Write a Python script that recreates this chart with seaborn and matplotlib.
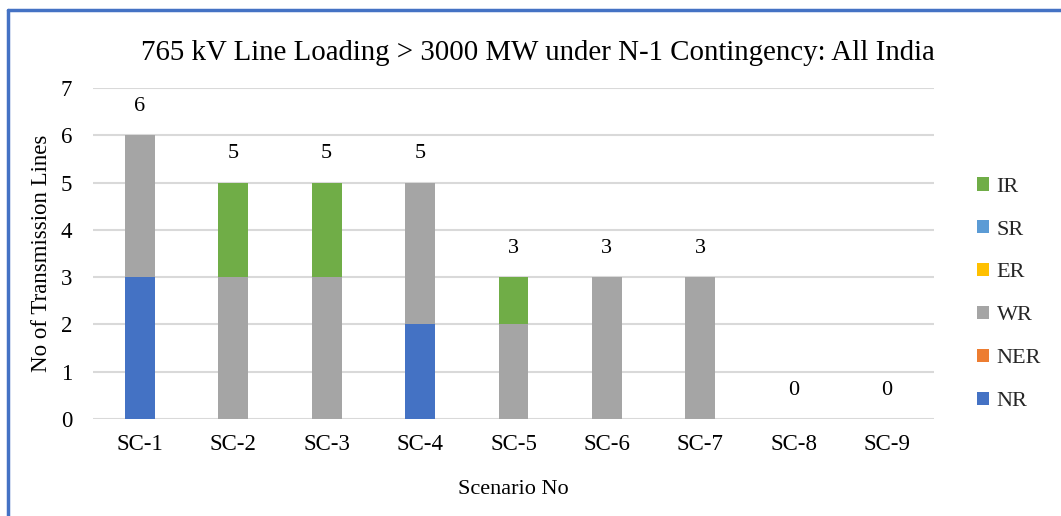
import numpy as np
import pandas as pd
import matplotlib
matplotlib.use("Agg")
import matplotlib.pyplot as plt
from matplotlib.patches import Patch
from matplotlib.lines import Line2D
import seaborn as sns

scenarios = ["SC-1", "SC-2", "SC-3", "SC-4", "SC-5", "SC-6", "SC-7", "SC-8", "SC-9"]
regions = ["NR", "NER", "WR", "ER", "SR", "IR"]
nr = [3, 0, 0, 2, 0, 0, 0, 0, 0]
ner = [0, 0, 0, 0, 0, 0, 0, 0, 0]
wr = [3, 3, 3, 3, 2, 3, 3, 0, 0]
er = [0, 0, 0, 0, 0, 0, 0, 0, 0]
sr = [0, 0, 0, 0, 0, 0, 0, 0, 0]
ir = [0, 2, 2, 0, 1, 0, 0, 0, 0]
colors = {"NR": "#4472C4", "NER": "#ED7D31", "WR": "#A5A5A5",
          "ER": "#FFC000", "SR": "#5B9BD5", "IR": "#70AD47"}

df = pd.DataFrame({"Scenario": scenarios, "NR": nr, "NER": ner, "WR": wr,
                   "ER": er, "SR": sr, "IR": ir})

sns.set_theme(style="white")
plt.rcParams["font.family"] = ["Liberation Serif", "DejaVu Serif"]

fig = plt.figure(figsize=(10.61, 5.16), dpi=100)
ax = fig.add_axes([0.0877, 0.188, 0.7925, 0.641])

# stacked bars: draw cumulative totals from the top layer down
cum = df[regions].cumsum(axis=1)
for reg in reversed(regions):
    sns.barplot(x=df["Scenario"], y=cum[reg], color=colors[reg], width=0.32,
                saturation=1, ax=ax, order=scenarios, zorder=2, linewidth=0)

totals = df[regions].sum(axis=1)
for i, t in enumerate(totals):
    ax.annotate(f"{t:g}", (i, t), xytext=(0, 14), textcoords="offset points",
                ha="center", va="bottom", fontsize=16, color="#000000")

ax.set_ylim(0, 7)
ax.set_yticks(range(0, 8))
ax.yaxis.grid(True, color="#D9D9D9", linewidth=1.5, zorder=0)
ax.set_axisbelow(True)
for s in ax.spines.values():
    s.set_visible(False)
ax.tick_params(axis="both", length=0, labelsize=16.5, colors="#000000")
ax.tick_params(axis="x", pad=11)
ax.tick_params(axis="y", pad=15)
ax.set_xlabel("Scenario No", fontsize=16, color="#000000", labelpad=18)
ax.set_ylabel("No of Transmission Lines", fontsize=16.5, color="#000000", labelpad=6)
ax.set_title("765 kV Line Loading > 3000 MW under N-1 Contingency: All India",
             fontsize=20.8, color="#000000", pad=20, x=0.529)

handles = [Patch(facecolor=colors[r], edgecolor="none", label=r) for r in reversed(regions)]
fig.legend(handles=handles, loc="center left", bbox_to_anchor=(0.9016, 0.43),
           frameon=False, fontsize=16, handlelength=0.55, handleheight=0.55,
           handletextpad=0.35, labelspacing=1.05)

# blue frame along the top and left edges
fig.add_artist(Line2D([8 / 1061, 1.0], [1 - 10 / 516, 1 - 10 / 516],
                      transform=fig.transFigure, color="#4472C4", linewidth=2.5))
fig.add_artist(Line2D([8 / 1061, 8 / 1061], [0, 1 - 10 / 516],
                      transform=fig.transFigure, color="#4472C4", linewidth=2.5))

fig.savefig("out.png", dpi=100)
